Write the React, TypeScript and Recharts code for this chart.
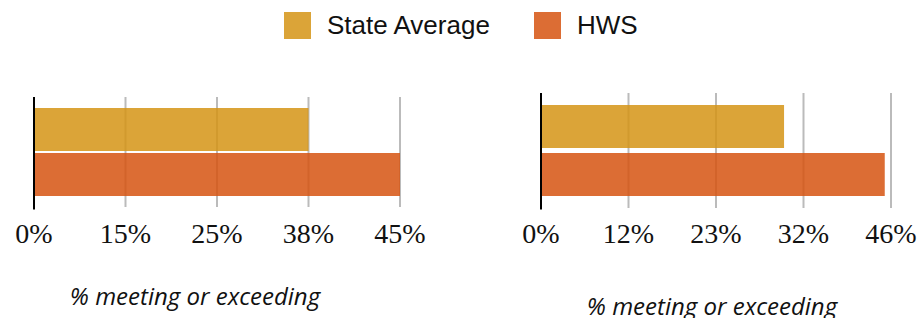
import React from "react";
import { BarChart, Bar, XAxis, YAxis, CartesianGrid } from "recharts";

// one category per panel, two series
const categories = ["% meeting or exceeding"];
const seriesNames = ["State Average", "HWS"];

const leftStateAvg = [38];
const leftHws = [45];
const leftTicks = [0, 15, 25, 38, 45];

const rightStateAvg = [30];
const rightHws = [45];
const rightTicks = [0, 12, 23, 32, 46];

const STATE_COLOR = "#d59415";
const HWS_COLOR = "#d65311";
const BAR_OPACITY = 0.85;

// the axis puts its ticks at even steps, so values are placed piecewise between them
function knotScale(knots: number[]) {
  let dom = [knots[0], knots[knots.length - 1]];
  let rng = [0, 1];
  const s: any = (v: number) => {
    const n = knots.length - 1;
    let i = 0;
    while (i < n - 1 && v > knots[i + 1]) i++;
    const t = (i + (v - knots[i]) / (knots[i + 1] - knots[i])) / n;
    return rng[0] + t * (rng[1] - rng[0]);
  };
  s.domain = (d?: number[]) => {
    if (d === undefined) return dom;
    dom = d;
    return s;
  };
  s.range = (r?: number[]) => {
    if (r === undefined) return rng;
    rng = r;
    return s;
  };
  s.copy = () => knotScale(knots).domain(dom).range(rng);
  s.ticks = () => knots;
  return s;
}

function PctTick(props: any) {
  const { x, y, payload, index, baseline } = props;
  return (
    <g>
      {index === 0 && (
        <line x1={x} x2={x} y1={y - 2} y2={209.5} stroke="#000" strokeWidth={2} />
      )}
      <text
        x={x}
        y={baseline}
        textAnchor="middle"
        fontFamily="'Liberation Serif', serif"
        fontSize={28}
        fill="#111"
      >
        {`${payload.value}%`}
      </text>
    </g>
  );
}

function Panel({
  stateVals,
  hwsVals,
  ticks,
  left,
  width,
  margin,
  yWidth,
  barGap,
}: {
  stateVals: number[];
  hwsVals: number[];
  ticks: number[];
  left: number;
  width: number;
  margin: { top: number; right: number; bottom: number; left: number };
  yWidth: number;
  barGap: number;
}) {
  const scale = React.useMemo(() => knotScale(ticks), [ticks]);
  const data = categories.map((name, i) => ({
    name,
    state: stateVals[i],
    hws: hwsVals[i],
  }));
  return (
    <div style={{ position: "absolute", left, top: 0 }}>
      <BarChart
        width={width}
        height={318}
        data={data}
        layout="vertical"
        margin={margin}
        barGap={barGap}
        barSize={43}
      >
        <CartesianGrid horizontal={false} stroke="#bbb" strokeWidth={2} />
        <XAxis
          type="number"
          domain={[ticks[0], ticks[ticks.length - 1]]}
          ticks={ticks}
          scale={scale}
          interval={0}
          tickSize={0}
          tickMargin={0}
          axisLine={false}
          tickLine={false}
          height={40}
          tick={<PctTick baseline={242.5} />}
        />
        <YAxis
          type="category"
          dataKey="name"
          width={yWidth}
          tick={false}
          tickLine={false}
          axisLine={{ stroke: "#000", strokeWidth: 2 }}
        />
        <Bar
          dataKey="state"
          name={seriesNames[0]}
          fill={STATE_COLOR}
          fillOpacity={BAR_OPACITY}
          isAnimationActive={false}
        />
        <Bar
          dataKey="hws"
          name={seriesNames[1]}
          fill={HWS_COLOR}
          fillOpacity={BAR_OPACITY}
          isAnimationActive={false}
        />
      </BarChart>
    </div>
  );
}

const legendText: React.CSSProperties = {
  fontFamily: "'Liberation Sans', Arial, sans-serif",
  fontSize: 26,
  color: "#111",
  lineHeight: "27px",
  whiteSpace: "nowrap",
};

const titleStyle: React.CSSProperties = {
  position: "absolute",
  width: 320,
  textAlign: "center",
  fontFamily: "'Open Sans', sans-serif",
  fontStyle: "italic",
  fontSize: 24,
  lineHeight: "24px",
  color: "#111",
  whiteSpace: "nowrap",
};

function Swatch({ color }: { color: string }) {
  return (
    <div
      style={{ width: 27, height: 27, background: color, opacity: BAR_OPACITY }}
    />
  );
}

export default function App() {
  return (
    <div
      style={{
        position: "absolute",
        left: 0,
        top: 0,
        width: 918,
        height: 318,
        background: "#fff",
        overflow: "hidden",
      }}
    >
      <div
        style={{
          position: "absolute",
          left: 284,
          top: 12,
          display: "flex",
          alignItems: "center",
        }}
      >
        <Swatch color={STATE_COLOR} />
        <div style={{ ...legendText, marginLeft: 16 }}>{seriesNames[0]}</div>
        <div style={{ marginLeft: 44 }}>
          <Swatch color={HWS_COLOR} />
        </div>
        <div style={{ ...legendText, marginLeft: 16 }}>{seriesNames[1]}</div>
      </div>

      <Panel
        stateVals={leftStateAvg}
        hwsVals={leftHws}
        ticks={leftTicks}
        left={0}
        width={460}
        margin={{ top: 97, right: 60, bottom: 71, left: 0 }}
        yWidth={34}
        barGap={2}
      />
      <Panel
        stateVals={rightStateAvg}
        hwsVals={rightHws}
        ticks={rightTicks}
        left={460}
        width={458}
        margin={{ top: 93, right: 27, bottom: 70, left: 0 }}
        yWidth={81}
        barGap={5}
      />

      <div style={{ ...titleStyle, left: 195 - 160, top: 283.7 }}>
        % meeting or exceeding
      </div>
      <div style={{ ...titleStyle, left: 712 - 160, top: 293.7 }}>
        % meeting or exceeding
      </div>
    </div>
  );
}
